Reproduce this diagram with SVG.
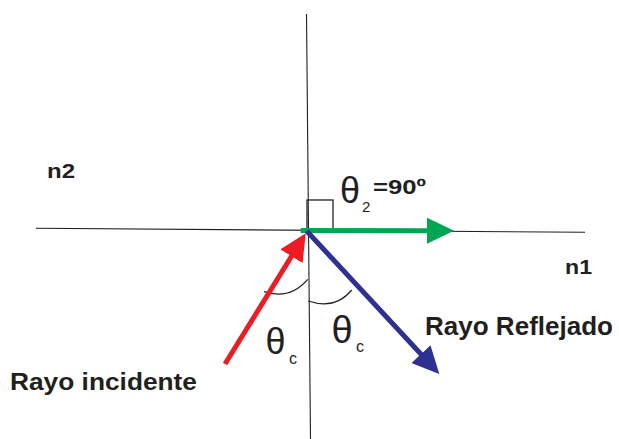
<svg xmlns="http://www.w3.org/2000/svg" width="619" height="439" viewBox="0 0 619 439">
  <style>
    .axis { stroke: #231f20; stroke-width: 1.1; fill: none; }
    .thin { stroke: #231f20; stroke-width: 1.3; fill: none; }
    .ray { stroke-width: 5; fill: none; stroke-linecap: butt; }
    .lbl { font-family: "Liberation Sans", Arial, sans-serif; font-weight: bold; fill: #231f20; }
    .sym { font-family: "Liberation Sans", Arial, sans-serif; fill: #231f20; }
  </style>
  <defs>
    <marker id="hGreen" viewBox="0 0 27 26" refX="7" refY="13" markerWidth="27" markerHeight="26" markerUnits="userSpaceOnUse" orient="auto">
      <path d="M0,0 L27,13 L0,26 z" fill="#00a651"/>
    </marker>
    <marker id="hRed" viewBox="0 0 27 26" refX="7" refY="13" markerWidth="27" markerHeight="26" markerUnits="userSpaceOnUse" orient="auto">
      <path d="M0,0 L27,13 L0,26 z" fill="#ed1c24"/>
    </marker>
    <marker id="hBlue" viewBox="0 0 27 26" refX="7" refY="13" markerWidth="27" markerHeight="26" markerUnits="userSpaceOnUse" orient="auto">
      <path d="M0,0 L27,13 L0,26 z" fill="#2e3192"/>
    </marker>
  </defs>

  <g id="axes">
    <line class="axis" x1="36" y1="228.3" x2="585" y2="232.3"/>
    <line class="axis" x1="306.5" y1="14" x2="310.5" y2="439"/>
    <rect class="thin" x="307" y="200" width="26" height="31"/>
    <path class="thin" d="M264,291.7 Q290,300 307.7,279.3"/>
    <path class="thin" d="M308.3,301 Q335,310 351.7,290"/>
  </g>

  <g id="connectors">
    <line class="ray" stroke="#00a651" x1="300.7" y1="230.6" x2="434" y2="230.7" marker-end="url(#hGreen)"/>
    <line class="ray" stroke="#ed1c24" x1="225" y1="364" x2="295.2" y2="250.3" marker-end="url(#hRed)"/>
    <line class="ray" stroke="#2e3192" x1="306.7" y1="231" x2="425.7" y2="359.3" marker-end="url(#hBlue)"/>
  </g>

  <g id="n2"><text class="lbl" x="47" y="178" font-size="21" textLength="28" lengthAdjust="spacingAndGlyphs">n2</text></g>
  <g id="n1"><text class="lbl" x="565" y="273.5" font-size="21" textLength="27" lengthAdjust="spacingAndGlyphs">n1</text></g>
  <g id="theta2">
    <text class="sym" x="340" y="203" font-size="36">θ</text>
    <text class="sym" x="362" y="211.5" font-size="15">2</text>
    <text class="lbl" x="373" y="193.5" font-size="20" textLength="53" lengthAdjust="spacingAndGlyphs">=90º</text>
  </g>
  <g id="thetac-left">
    <text class="sym" x="265.5" y="354" font-size="36">θ</text>
    <text class="sym" x="289" y="363.5" font-size="16">c</text>
  </g>
  <g id="thetac-right">
    <text class="sym" x="331.5" y="343" font-size="38">θ</text>
    <text class="sym" x="356" y="352" font-size="16">c</text>
  </g>
  <g id="rayo-incidente"><text class="lbl" x="10" y="389.5" font-size="24" textLength="187" lengthAdjust="spacingAndGlyphs">Rayo incidente</text></g>
  <g id="rayo-reflejado"><text class="lbl" x="425" y="335" font-size="25" textLength="188" lengthAdjust="spacingAndGlyphs">Rayo Reflejado</text></g>
</svg>
